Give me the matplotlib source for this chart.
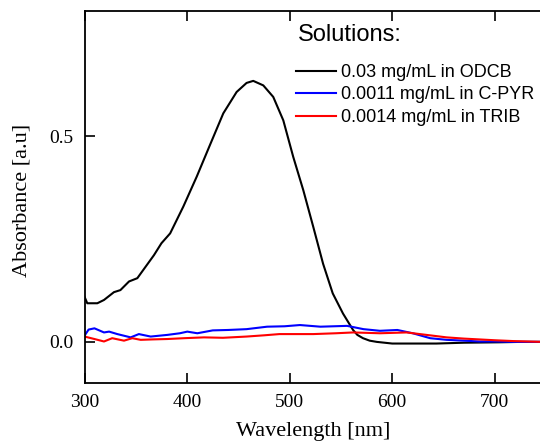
import matplotlib
matplotlib.use("Agg")
import matplotlib.pyplot as plt

# Absorption spectra
wl_odcb = [300, 302.7, 312.5, 319, 328.7, 335, 343.4, 351.5, 359.6, 367.7, 375, 383.5,
           396.3, 409.4, 422.3, 435.3, 448.3, 458, 464.5, 474.3, 484, 493.8, 503.5,
           513.3, 523, 532.6, 542, 552, 561.8, 566, 571.5, 578, 585, 600, 620, 643,
           670, 704, 725, 746]
abs_odcb = [0.110, 0.094, 0.094, 0.102, 0.121, 0.126, 0.147, 0.155, 0.183, 0.211,
            0.240, 0.264, 0.329, 0.402, 0.479, 0.556, 0.608, 0.630, 0.635, 0.624,
            0.596, 0.539, 0.450, 0.369, 0.280, 0.190, 0.118, 0.069, 0.029, 0.017,
            0.009, 0.003, 0.000, -0.004, -0.004, -0.004, -0.002, -0.001, 0.000,
            0.000]

wl_cpyr = [300, 304, 309.7, 319, 324, 332, 345, 353, 364.5, 380.7, 393, 400.2, 410,
           425, 440, 458, 478, 495, 510, 530, 556, 572, 588, 605, 620, 637, 653, 670,
           685, 700, 718, 746]
abs_cpyr = [0.015, 0.030, 0.033, 0.023, 0.025, 0.019, 0.011, 0.019, 0.013, 0.017,
            0.021, 0.025, 0.021, 0.028, 0.029, 0.031, 0.037, 0.038, 0.041, 0.037,
            0.039, 0.031, 0.027, 0.029, 0.021, 0.009, 0.005, 0.003, 0.001, 0.001,
            0.000, 0.000]

wl_trib = [300, 309.7, 319, 327, 338.5, 346.6, 354.8, 366, 380.7, 397, 416.5, 435,
           458, 475, 490, 523, 545, 562, 588, 614, 627, 640, 653, 670, 685, 700, 718,
           746]
abs_trib = [0.013, 0.007, 0.001, 0.009, 0.003, 0.009, 0.005, 0.006, 0.007, 0.009,
            0.011, 0.010, 0.013, 0.016, 0.019, 0.019, 0.021, 0.023, 0.021, 0.023,
            0.019, 0.015, 0.011, 0.008, 0.006, 0.004, 0.002, 0.000]

labels = ["0.03 mg/mL in ODCB", "0.0011 mg/mL in C-PYR", "0.0014 mg/mL in TRIB"]
colors = ["black", "blue", "red"]

serif = ["Liberation Serif", "DejaVu Serif"]
sans = ["Liberation Sans", "DejaVu Sans"]

W, H = 540, 446
fig = plt.figure(figsize=(W / 100, H / 100), dpi=100)
ax = fig.add_axes([84.5 / W, 1 - 383 / H, (542 - 84.5) / W, (383 - 11) / H])

series = [(wl_odcb, abs_odcb), (wl_cpyr, abs_cpyr), (wl_trib, abs_trib)]
for (x, y), lab, col in zip(series, labels, colors):
    ax.plot(x, y, color=col, lw=1.5, label=lab)

ax.set_xlim(300, 746)
ax.set_ylim(-0.1, 0.805)
ax.set_xticks([300, 400, 500, 600, 700])
ax.set_yticks([0.0, 0.5])
ax.set_yticklabels(["0.0", "0.5"])
ax.tick_params(direction="in", top=True, right=False, length=7, width=1.2, labelsize=14, pad=8)
for lbl in ax.get_xticklabels() + ax.get_yticklabels():
    lbl.set_family(serif)
for s in ax.spines.values():
    s.set_linewidth(1.3)
ax.spines["right"].set_visible(False)

ax.set_xlabel("Wavelength [nm]", family=serif, fontsize=16)
ax.set_ylabel("Absorbance [a.u]", family=serif, fontsize=16)
ax.xaxis.set_label_coords(0.5, (383 - 422) / 372)
ax.yaxis.set_label_coords((32 - 84.5) / 457.5, 0.49)

ax.text((298 - 84.5) / 457.5, (383 - 35) / 372, "Solutions:", transform=ax.transAxes,
        family=sans, fontsize=17, ha="left", va="center")
ax.legend(loc="upper left", bbox_to_anchor=((296 - 84.5) / 457.5, (383 - 64) / 372),
          frameon=False, prop={"family": sans, "size": 13}, handlelength=2.2,
          handletextpad=0.3, labelspacing=0.3, borderpad=0, borderaxespad=0)

fig.savefig("out.png", dpi=100)
